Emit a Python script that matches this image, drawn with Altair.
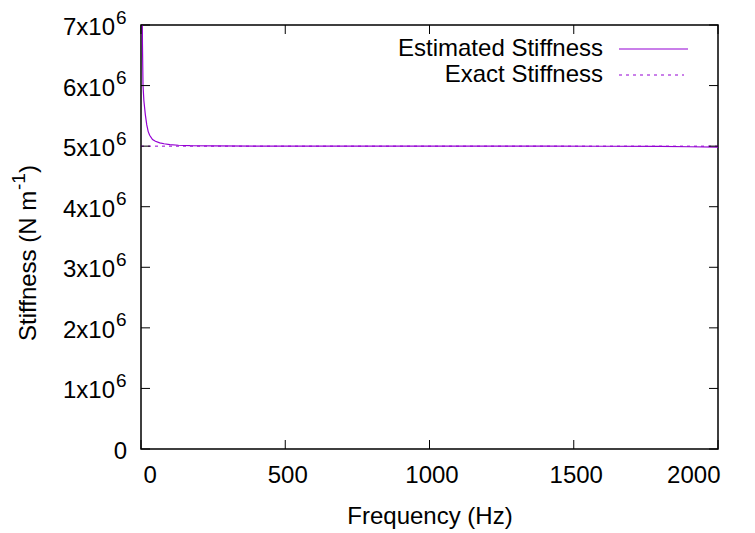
import altair as alt
import pandas as pd

# Data
est_freq = [2, 3, 4, 5, 7, 10, 15, 20, 25, 30, 40, 50, 65, 80, 100, 130, 170, 250,
            400, 600, 800, 1000, 1200, 1400, 1600, 1800, 1900, 2000]
est_stiff = [1.2e7, 8.5e6, 7.4e6, 6.7e6, 6.0e6, 5.75e6, 5.52e6, 5.35e6, 5.24e6, 5.18e6,
             5.11e6, 5.08e6, 5.055e6, 5.04e6, 5.025e6, 5.015e6, 5.008e6, 5.003e6,
             5.0e6, 5.0e6, 5.0e6, 5.0e6, 5.0e6, 5.0e6, 4.998e6, 4.995e6, 4.99e6, 4.985e6]
exact_freq = [0, 2000]
exact_stiff = [5.0e6, 5.0e6]
x_ticks = [0, 500, 1000, 1500, 2000]
y_ticks = [0, 1e6, 2e6, 3e6, 4e6, 5e6, 6e6, 7e6]
y_label_main = ["0", "1x10", "2x10", "3x10", "4x10", "5x10", "6x10", "7x10"]
y_label_exp = ["", "6", "6", "6", "6", "6", "6", "6"]
legend_labels = ["Estimated Stiffness", "Exact Stiffness"]
y_title_parts = ["Stiffness (N m", "-1", ")"]
x_title = "Frequency (Hz)"

LEFT, TOP = 141, 25
W, H = 577, 424
FONT = "Liberation Sans"
FS = 24
SFS = 19
COLOR = "#9400d3"

est_df = pd.DataFrame({"f": est_freq, "k": est_stiff})
exact_df = pd.DataFrame({"f": exact_freq, "k": exact_stiff})
xt_df = pd.DataFrame({"f": x_ticks})
yt_df = pd.DataFrame({"k": y_ticks, "main": y_label_main, "exp": y_label_exp})
ylab_df = yt_df[yt_df["exp"] != ""]
yzero_df = yt_df[yt_df["exp"] == ""]

xscale = alt.Scale(domain=[0, 2000], nice=False, zero=False)
yscale = alt.Scale(domain=[0, 7e6], nice=False)

xaxis = alt.Axis(values=x_ticks, ticks=False, domain=False, grid=False, format="d",
                 labelFontSize=FS, labelFont=FONT, labelColor="black", labelPadding=14,
                 labelOffset=2,
                 title=x_title, titleFontSize=FS, titleFont=FONT,
                 titleFontWeight="normal", titleColor="black",
                 titleBaseline="alphabetic", titleY=74)
yaxis = alt.Axis(values=y_ticks, ticks=False, domain=False, grid=False,
                 labels=False, title=None)

est = alt.Chart(est_df).mark_line(color=COLOR, strokeWidth=1.2, clip=True).encode(
    x=alt.X("f:Q", scale=xscale, axis=xaxis),
    y=alt.Y("k:Q", scale=yscale, axis=yaxis),
)
exact = alt.Chart(exact_df).mark_line(color=COLOR, strokeWidth=1, strokeDash=[3, 4], clip=True).encode(
    x=alt.X("f:Q", scale=xscale),
    y=alt.Y("k:Q", scale=yscale),
)

tick_len = 9
bt = alt.Chart(xt_df).mark_rule(color="black", strokeWidth=1).encode(
    x=alt.X("f:Q", scale=xscale), y=alt.value(H), y2=alt.value(H - tick_len))
tt = alt.Chart(xt_df).mark_rule(color="black", strokeWidth=1).encode(
    x=alt.X("f:Q", scale=xscale), y=alt.value(0), y2=alt.value(tick_len))
lt = alt.Chart(yt_df).mark_rule(color="black", strokeWidth=1).encode(
    y=alt.Y("k:Q", scale=yscale), x=alt.value(0), x2=alt.value(tick_len))
rt = alt.Chart(yt_df).mark_rule(color="black", strokeWidth=1).encode(
    y=alt.Y("k:Q", scale=yscale), x=alt.value(W), x2=alt.value(W - tick_len))

# Y tick labels with superscript exponents (gnuplot style)
ylab_main = alt.Chart(ylab_df).mark_text(
    align="right", baseline="alphabetic", dy=10, fontSize=FS, font=FONT, color="black").encode(
    y=alt.Y("k:Q", scale=yscale), x=alt.value(115 - LEFT), text="main:N")
ylab_exp = alt.Chart(ylab_df).mark_text(
    align="left", baseline="alphabetic", dy=-1.5, fontSize=SFS, font=FONT, color="black").encode(
    y=alt.Y("k:Q", scale=yscale), x=alt.value(116 - LEFT), text="exp:N")
ylab_zero = alt.Chart(yzero_df).mark_text(
    align="right", baseline="alphabetic", dy=9.5, fontSize=FS, font=FONT, color="black").encode(
    y=alt.Y("k:Q", scale=yscale), x=alt.value(127 - LEFT), text="main:N")

# Y axis title with superscript
yt_main = alt.Chart(pd.DataFrame({"t": [y_title_parts[0]]})).mark_text(
    align="left", baseline="alphabetic", angle=270, fontSize=FS, font=FONT, color="black").encode(
    text="t:N", x=alt.value(36 - LEFT), y=alt.value(341 - TOP))
yt_sup = alt.Chart(pd.DataFrame({"t": [y_title_parts[1]]})).mark_text(
    align="left", baseline="alphabetic", angle=270, fontSize=SFS, font=FONT, color="black").encode(
    text="t:N", x=alt.value(25 - LEFT), y=alt.value(190 - TOP))
yt_close = alt.Chart(pd.DataFrame({"t": [y_title_parts[2]]})).mark_text(
    align="left", baseline="alphabetic", angle=270, fontSize=FS, font=FONT, color="black").encode(
    text="t:N", x=alt.value(36 - LEFT), y=alt.value(173 - TOP))

# Legend (gnuplot style: label right-aligned, sample on the right)
leg_df1 = pd.DataFrame({"t": [legend_labels[0]]})
leg_df2 = pd.DataFrame({"t": [legend_labels[1]]})
leg1_text = alt.Chart(leg_df1).mark_text(
    align="right", baseline="middle", fontSize=FS, font=FONT, color="black").encode(
    text="t:N", x=alt.value(603 - LEFT), y=alt.value(49 - TOP))
leg2_text = alt.Chart(leg_df2).mark_text(
    align="right", baseline="middle", fontSize=FS, font=FONT, color="black").encode(
    text="t:N", x=alt.value(603 - LEFT), y=alt.value(75 - TOP))
leg1_line = alt.Chart(leg_df1).mark_rule(color=COLOR, strokeWidth=1.2).encode(
    x=alt.value(619 - LEFT), x2=alt.value(688 - LEFT), y=alt.value(49 - TOP))
leg2_line = alt.Chart(leg_df2).mark_rule(color=COLOR, strokeWidth=1, strokeDash=[3, 4]).encode(
    x=alt.value(619 - LEFT), x2=alt.value(684 - LEFT), y=alt.value(75 - TOP))

chart = alt.layer(exact, est, bt, tt, lt, rt, ylab_main, ylab_exp, ylab_zero,
                  yt_main, yt_sup, yt_close,
                  leg1_text, leg2_text, leg1_line, leg2_line).properties(
    width=W, height=H,
    autosize=alt.AutoSizeParams(type="none"),
    padding={"left": LEFT, "top": TOP, "right": 755 - LEFT - W, "bottom": 533 - TOP - H},
    background="white",
).configure_view(stroke="black", strokeWidth=1.5)

chart.save("out.html", embed_options={"renderer": "svg", "actions": False})
